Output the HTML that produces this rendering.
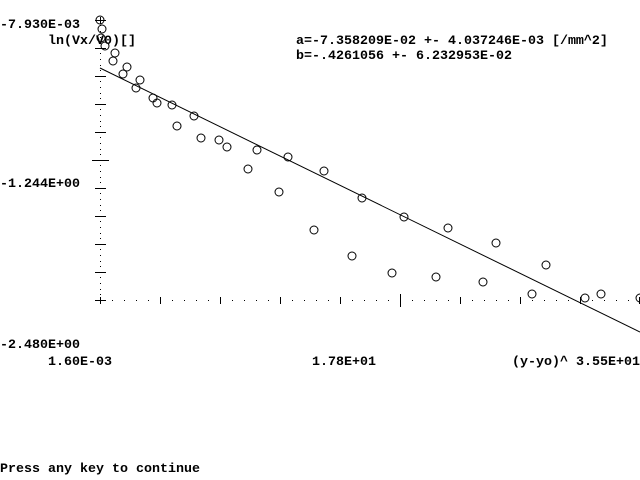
<!DOCTYPE html>
<html>
<head>
<meta charset="utf-8">
<style>
  html, body { margin:0; padding:0; background:#fff; }
  body { width:640px; height:480px; overflow:hidden; }
  svg { display:block; }
  text { font-family:"Liberation Mono", monospace; font-size:13.33px; font-weight:bold; fill:#000; }
</style>
</head>
<body>
<svg width="640" height="480" viewBox="0 0 640 480" xmlns="http://www.w3.org/2000/svg">
  <rect x="0" y="0" width="640" height="480" fill="#fff"/>

  <!-- Y axis dotted -->
  <g fill="#000" shape-rendering="crispEdges">
    <!-- y-axis dots: 4 dots per 28px interval -->
    <rect x="100" y="25" width="1" height="1"/><rect x="100" y="31" width="1" height="1"/><rect x="100" y="37" width="1" height="1"/><rect x="100" y="42" width="1" height="1"/>
    <rect x="100" y="53" width="1" height="1"/><rect x="100" y="59" width="1" height="1"/><rect x="100" y="65" width="1" height="1"/><rect x="100" y="70" width="1" height="1"/>
    <rect x="100" y="81" width="1" height="1"/><rect x="100" y="87" width="1" height="1"/><rect x="100" y="93" width="1" height="1"/><rect x="100" y="98" width="1" height="1"/>
    <rect x="100" y="109" width="1" height="1"/><rect x="100" y="115" width="1" height="1"/><rect x="100" y="121" width="1" height="1"/><rect x="100" y="126" width="1" height="1"/>
    <rect x="100" y="137" width="1" height="1"/><rect x="100" y="143" width="1" height="1"/><rect x="100" y="149" width="1" height="1"/><rect x="100" y="154" width="1" height="1"/>
    <rect x="100" y="165" width="1" height="1"/><rect x="100" y="171" width="1" height="1"/><rect x="100" y="177" width="1" height="1"/><rect x="100" y="182" width="1" height="1"/>
    <rect x="100" y="193" width="1" height="1"/><rect x="100" y="199" width="1" height="1"/><rect x="100" y="205" width="1" height="1"/><rect x="100" y="210" width="1" height="1"/>
    <rect x="100" y="221" width="1" height="1"/><rect x="100" y="227" width="1" height="1"/><rect x="100" y="233" width="1" height="1"/><rect x="100" y="238" width="1" height="1"/>
    <rect x="100" y="249" width="1" height="1"/><rect x="100" y="255" width="1" height="1"/><rect x="100" y="261" width="1" height="1"/><rect x="100" y="266" width="1" height="1"/>
    <rect x="100" y="277" width="1" height="1"/><rect x="100" y="283" width="1" height="1"/><rect x="100" y="289" width="1" height="1"/><rect x="100" y="294" width="1" height="1"/>

    <!-- y ticks -->
    <rect x="95" y="20" width="11" height="1"/>
    <rect x="100" y="17" width="1" height="7"/>
    <rect x="95" y="48" width="11" height="1"/>
    <rect x="95" y="76" width="11" height="1"/>
    <rect x="95" y="104" width="11" height="1"/>
    <rect x="95" y="132" width="11" height="1"/>
    <rect x="92" y="160" width="17" height="1"/>
    <rect x="95" y="188" width="11" height="1"/>
    <rect x="95" y="216" width="11" height="1"/>
    <rect x="95" y="244" width="11" height="1"/>
    <rect x="95" y="272" width="11" height="1"/>
    <!-- origin plus -->
    <rect x="95" y="300" width="11" height="1"/>
    <rect x="100" y="297" width="1" height="7"/>

    <!-- x ticks -->
    <rect x="160" y="297" width="1" height="7"/>
    <rect x="220" y="297" width="1" height="7"/>
    <rect x="280" y="297" width="1" height="7"/>
    <rect x="340" y="297" width="1" height="7"/>
    <rect x="400" y="294" width="1" height="13"/>
    <rect x="460" y="297" width="1" height="7"/>
    <rect x="520" y="297" width="1" height="7"/>
    <rect x="580" y="297" width="1" height="7"/>
    <rect x="639" y="297" width="1" height="7"/>

    <!-- x-axis dots: 4 per 60px interval -->
    <rect x="112" y="300" width="1" height="1"/><rect x="124" y="300" width="1" height="1"/><rect x="136" y="300" width="1" height="1"/><rect x="148" y="300" width="1" height="1"/>
    <rect x="172" y="300" width="1" height="1"/><rect x="184" y="300" width="1" height="1"/><rect x="196" y="300" width="1" height="1"/><rect x="208" y="300" width="1" height="1"/>
    <rect x="232" y="300" width="1" height="1"/><rect x="244" y="300" width="1" height="1"/><rect x="256" y="300" width="1" height="1"/><rect x="268" y="300" width="1" height="1"/>
    <rect x="292" y="300" width="1" height="1"/><rect x="304" y="300" width="1" height="1"/><rect x="316" y="300" width="1" height="1"/><rect x="328" y="300" width="1" height="1"/>
    <rect x="352" y="300" width="1" height="1"/><rect x="364" y="300" width="1" height="1"/><rect x="376" y="300" width="1" height="1"/><rect x="388" y="300" width="1" height="1"/>
    <rect x="412" y="300" width="1" height="1"/><rect x="424" y="300" width="1" height="1"/><rect x="436" y="300" width="1" height="1"/><rect x="448" y="300" width="1" height="1"/>
    <rect x="472" y="300" width="1" height="1"/><rect x="484" y="300" width="1" height="1"/><rect x="496" y="300" width="1" height="1"/><rect x="508" y="300" width="1" height="1"/>
    <rect x="532" y="300" width="1" height="1"/><rect x="544" y="300" width="1" height="1"/><rect x="556" y="300" width="1" height="1"/><rect x="568" y="300" width="1" height="1"/>
    <rect x="592" y="300" width="1" height="1"/><rect x="604" y="300" width="1" height="1"/><rect x="616" y="300" width="1" height="1"/><rect x="628" y="300" width="1" height="1"/>
  </g>

  <!-- regression line -->
  <line x1="100" y1="68" x2="640" y2="332" stroke="#000" stroke-width="1"/>

  <!-- data points -->
  <g fill="none" stroke="#000" stroke-width="1">
    <circle cx="100" cy="20" r="4"/>
    <circle cx="102" cy="29" r="4"/>
    <circle cx="101" cy="38" r="4"/>
    <circle cx="105" cy="46" r="4"/>
    <circle cx="115" cy="53" r="4"/>
    <circle cx="113" cy="61" r="4"/>
    <circle cx="127" cy="67" r="4"/>
    <circle cx="123" cy="74" r="4"/>
    <circle cx="140" cy="80" r="4"/>
    <circle cx="136" cy="88" r="4"/>
    <circle cx="153" cy="98" r="4"/>
    <circle cx="157" cy="103" r="4"/>
    <circle cx="172" cy="105" r="4"/>
    <circle cx="194" cy="116" r="4"/>
    <circle cx="177" cy="126" r="4"/>
    <circle cx="201" cy="138" r="4"/>
    <circle cx="219" cy="140" r="4"/>
    <circle cx="227" cy="147" r="4"/>
    <circle cx="257" cy="150" r="4"/>
    <circle cx="248" cy="169" r="4"/>
    <circle cx="288" cy="157" r="4"/>
    <circle cx="324" cy="171" r="4"/>
    <circle cx="279" cy="192" r="4"/>
    <circle cx="362" cy="198" r="4"/>
    <circle cx="404" cy="217" r="4"/>
    <circle cx="448" cy="228" r="4"/>
    <circle cx="314" cy="230" r="4"/>
    <circle cx="352" cy="256" r="4"/>
    <circle cx="392" cy="273" r="4"/>
    <circle cx="436" cy="277" r="4"/>
    <circle cx="496" cy="243" r="4"/>
    <circle cx="546" cy="265" r="4"/>
    <circle cx="483" cy="282" r="4"/>
    <circle cx="532" cy="294" r="4"/>
    <circle cx="585" cy="298" r="4"/>
    <circle cx="601" cy="294" r="4"/>
    <circle cx="640" cy="298" r="4"/>
  </g>

  <!-- text -->
  <text x="0" y="28">-7.930E-03</text>
  <text x="48" y="44">ln(Vx/V0)[]</text>
  <text x="296" y="44">a=-7.358209E-02 +- 4.037246E-03 [/mm^2]</text>
  <text x="296" y="59">b=-.4261056 +- 6.232953E-02</text>
  <text x="0" y="187">-1.244E+00</text>
  <text x="0" y="348">-2.480E+00</text>
  <text x="48" y="365">1.60E-03</text>
  <text x="312" y="365">1.78E+01</text>
  <text x="512" y="365">(y-yo)^ 3.55E+01</text>
  <text x="0" y="472">Press any key to continue</text>
</svg>
</body>
</html>
